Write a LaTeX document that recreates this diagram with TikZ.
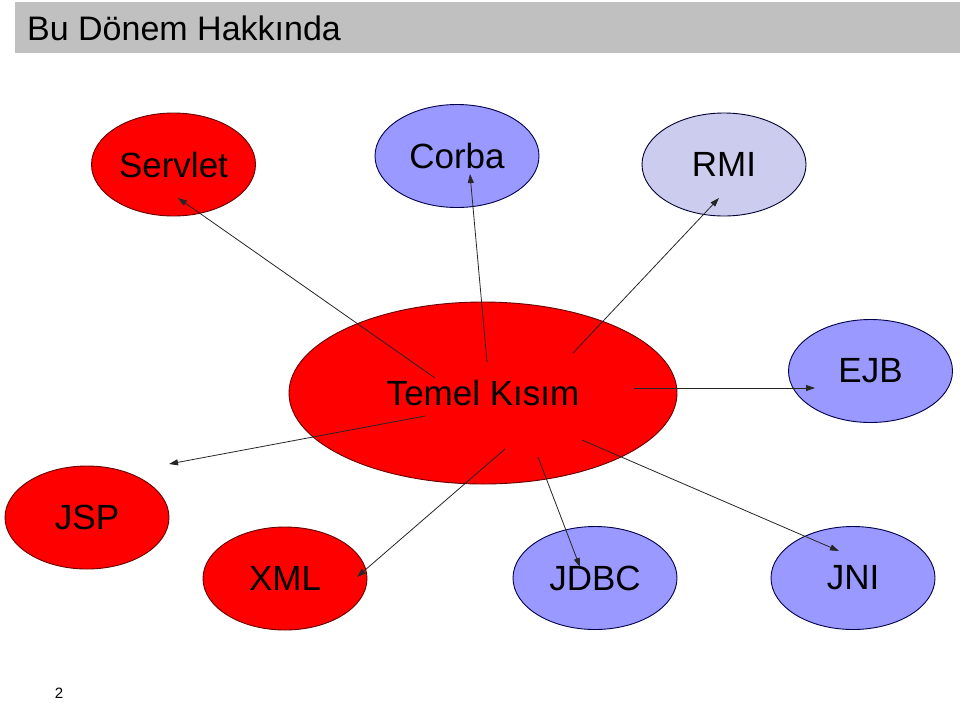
\documentclass[tikz,border=0pt]{standalone}
\usepackage{fontspec}
\setmainfont{Liberation Sans}
\usetikzlibrary{shapes.geometric,arrows.meta}
\definecolor{redfill}{HTML}{FF0000}
\definecolor{bluefill}{HTML}{9999FF}
\definecolor{lavfill}{HTML}{CCCCEE}
\definecolor{titlegrey}{HTML}{C0C0C0}
\tikzset{
  bubble/.style={ellipse, draw=black!75, line width=0.9pt, inner sep=0pt,
    minimum width=164pt, minimum height=103pt,
    font=\fontsize{35}{40}\selectfont},
  redb/.style={bubble, fill=redfill, draw=red!40!black},
  blueb/.style={bubble, fill=bluefill, draw=blue!30!black},
  lavb/.style={bubble, fill=lavfill, draw=blue!20!black},
  conn/.style={draw=black!85, line width=0.8pt, -{Triangle[length=9pt,width=6pt]}}
}
\begin{document}
\begin{tikzpicture}[x=1pt,y=-1pt]
\useasboundingbox (0,0) rectangle (960,702);
% title bar
\fill[titlegrey] (15,2) rectangle (960,53);
\node[anchor=base west, inner sep=0pt, font=\fontsize{34}{38}\selectfont] (title) at (27,40) {Bu Dönem Hakkında};
% ellipses
\node[redb] (servlet) at (173.5,164.5) {Servlet};
\node[blueb] (corba) at (457,156) {Corba};
\node[lavb] (rmi) at (724,164.5) {RMI};
\node[redb, minimum width=388pt, minimum height=182pt] (temel) at (483,393) {Temel Kısım};
\node[blueb] (ejb) at (870.5,371) {EJB};
\node[redb] (jsp) at (87,517.5) {JSP};
\node[redb] (xml) at (285,578.5) {XML};
\node[blueb] (jdbc) at (595,578) {JDBC};
\node[blueb] (jni) at (853,578) {JNI};
% connector end points
\coordinate (s1) at (435,378); \coordinate (e1) at (178,198);
\coordinate (s2) at (487,362); \coordinate (e2) at (470,174);
\coordinate (s3) at (573,353); \coordinate (e3) at (719,198);
\coordinate (s4) at (634,388); \coordinate (e4) at (815,388);
\coordinate (s5) at (425,416); \coordinate (e5) at (169,464);
\coordinate (s6) at (505,449); \coordinate (e6) at (357,577);
\coordinate (s7) at (538,457); \coordinate (e7) at (580,567);
\coordinate (s8) at (582,440); \coordinate (e8) at (839,551);
\draw[conn] (s1) -- (e1);
\draw[conn] (s2) -- (e2);
\draw[conn] (s3) -- (e3);
\draw[conn] (s4) -- (e4);
\draw[conn] (s5) -- (e5);
\draw[conn] (s6) -- (e6);
\draw[conn] (s7) -- (e7);
\draw[conn] (s8) -- (e8);
% page number
\node[font=\fontsize{15}{18}\selectfont, inner sep=0pt] (pnum) at (59,693) {2};
\end{tikzpicture}
\end{document}
